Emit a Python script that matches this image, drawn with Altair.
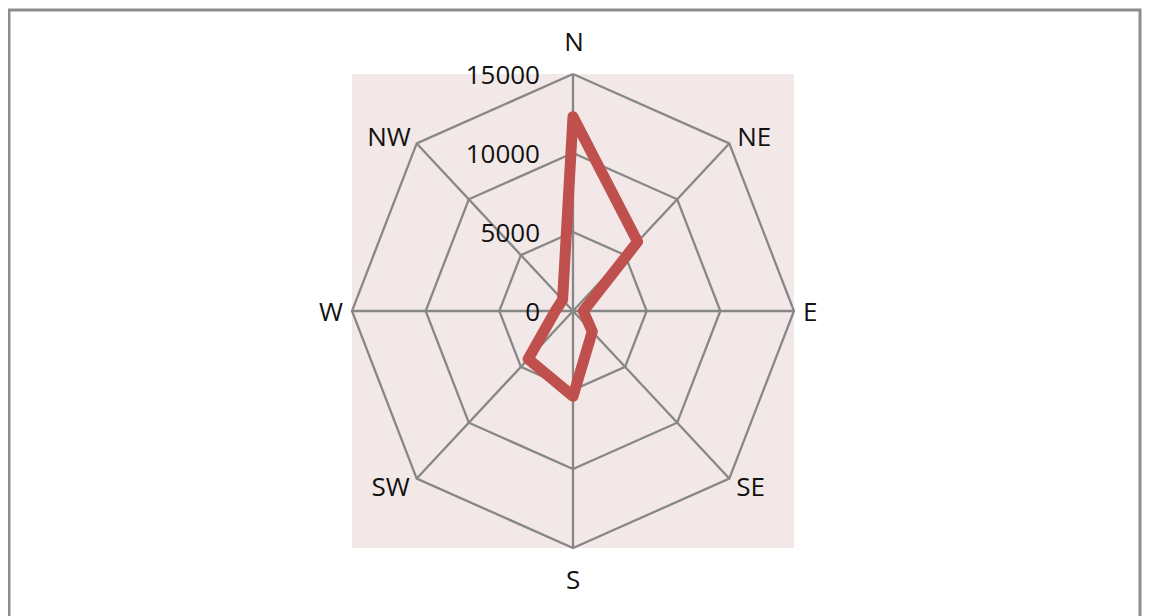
import altair as alt
import pandas as pd

# ---- data ----
directions = ["N", "NE", "E", "SE", "S", "SW", "W", "NW"]
values = [12300, 6200, 700, 1850, 5400, 4300, 1200, 1000]
tick_values = [0, 5000, 10000, 15000]
ring_values = [5000, 10000, 15000]
max_value = 15000

n = len(directions)
FONT = "Open Sans"
FONT_SIZE = 26
GRID = "#878787"
RED = "#C0504D"
TEXT = "#111111"

series_df = pd.DataFrame({
    "dir": directions + [directions[0]],
    "idx": list(range(n)) + [n],
    "value": values + [values[0]],
})
ring_df = pd.DataFrame(
    [{"ring": r, "idx": i, "value": r} for r in ring_values for i in range(n + 1)]
)
spoke_df = pd.DataFrame({"dir": directions, "idx": list(range(n)), "value": [max_value] * n})
tick_df = pd.DataFrame({"label": [str(t) for t in tick_values], "value": tick_values})
frame_df = pd.DataFrame({"k": [0]})

xs = alt.Scale(domain=[-max_value, max_value], nice=False, zero=False)
ys = alt.Scale(domain=[-max_value, max_value], nice=False, zero=False)


def polar(ch):
    return ch.transform_calculate(
        ang="datum.idx * 2 * PI / %d" % n,
    ).transform_calculate(
        px="datum.value * sin(datum.ang)",
        py="datum.value * cos(datum.ang)",
        zero="0",
    )


X = alt.X("px:Q", scale=xs, axis=None)
Y = alt.Y("py:Q", scale=ys, axis=None)

frame = alt.Chart(frame_df).mark_rect(filled=False, color="#8c8c8c", strokeWidth=3).encode(
    x=alt.value(-343), x2=alt.value(788), y=alt.value(-64), y2=alt.value(640)
)

rings = polar(alt.Chart(ring_df)).mark_line(color=GRID, strokeWidth=2.3).encode(
    x=X, y=Y, detail="ring:N", order="idx:Q"
)

spokes = polar(alt.Chart(spoke_df)).mark_rule(color=GRID, strokeWidth=2.3).encode(
    x=alt.X("zero:Q", scale=xs, axis=None),
    y=alt.Y("zero:Q", scale=ys, axis=None),
    x2="px:Q",
    y2="py:Q",
)

line = polar(alt.Chart(series_df)).mark_line(
    color=RED, strokeWidth=11, strokeJoin="round", strokeCap="round"
).encode(x=X, y=Y, order="idx:Q")

ticks = alt.Chart(tick_df).transform_calculate(zero="0").mark_text(
    align="right", baseline="middle", dx=-33, dy=2, font=FONT, fontSize=FONT_SIZE, color=TEXT
).encode(
    x=alt.X("zero:Q", scale=xs, axis=None),
    y=alt.Y("value:Q", scale=ys, axis=None),
    text="label:N",
)

# pixel offsets of the direction labels from the outer vertices (style only)
label_style = {
    "N": ("center", 1, -31),
    "NE": ("left", 8, -5),
    "E": ("left", 9, 2),
    "SE": ("left", 7, 9),
    "S": ("center", 0, 33),
    "SW": ("right", -7, 9),
    "W": ("right", -9, 2),
    "NW": ("right", -6, -5),
}
label_layers = []
for d in directions:
    al, dx, dy = label_style[d]
    label_layers.append(
        polar(alt.Chart(spoke_df)).transform_filter(alt.datum.dir == d).mark_text(
            align=al, baseline="middle", dx=dx, dy=dy, font=FONT, fontSize=FONT_SIZE, color=TEXT
        ).encode(x=X, y=Y, text="dir:N")
    )

chart = alt.layer(frame, rings, spokes, line, ticks, *label_layers).properties(
    width=442,
    height=474,
    padding={"left": 344, "top": 66, "right": 350, "bottom": 68},
    autosize=alt.AutoSizeParams(type="none"),
    background="white",
).configure_view(fill="#F2E8E8", strokeWidth=0)

chart.save("out.html", embed_options={"renderer": "svg", "actions": False})
